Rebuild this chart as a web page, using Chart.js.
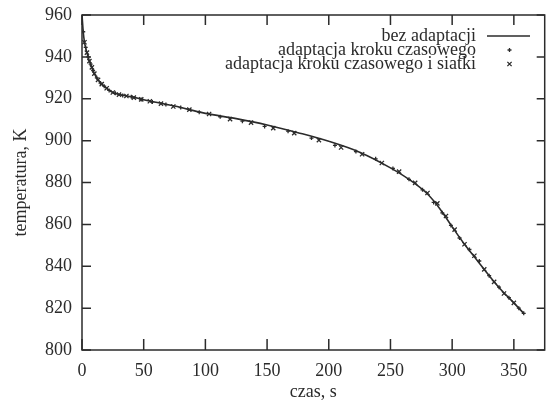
<!DOCTYPE html>
<html>
<head>
<meta charset="utf-8">
<script src="https://cdn.jsdelivr.net/npm/chart.js@4.4.1/dist/chart.umd.min.js"></script>
<style>
  html, body { margin: 0; padding: 0; background: #fff; }
  #wrap { width: 550px; height: 401px; }
</style>
</head>
<body>
<div id="wrap"><canvas id="tempChart"></canvas></div>
<script>
// czas [s] i temperatura [K]
const timeNoAdapt = [0, 1, 2, 4, 6, 8, 10, 13, 16, 20, 25, 30, 35, 40, 50, 60, 75, 100, 125, 150, 175, 200, 225, 250, 265, 280, 290, 300, 310, 320, 330, 340, 350, 358];
const tempNoAdapt = [960, 952, 947, 942, 938, 935, 932, 929, 927, 925, 923, 922, 921.5, 921, 919.5, 918.3, 916.5, 913, 910.5, 907.5, 903.8, 899.7, 894.5, 887, 881.5, 874.5, 867.5, 858.8, 850.5, 843, 835.5, 828.5, 822.5, 817.5];

const timeStep = [1, 3, 5, 7, 9, 12, 15, 18, 22, 27, 33, 40, 48, 57, 68, 80, 95, 112, 130, 148, 167, 186, 205, 222, 238, 252, 265, 276, 285, 292, 299, 306, 314, 322, 330, 338, 346, 354, 358];
const tempStep = [952, 944.5, 940, 936.5, 933.5, 930, 927.5, 926, 924, 922.6, 921.6, 921, 919.7, 918.5, 917.2, 915.8, 913.6, 911.4, 909.3, 906.8, 904.5, 901.2, 897.7, 894.8, 891.3, 886.7, 881.5, 876.5, 870.5, 865.5, 859.5, 853.5, 848, 842.5, 835.5, 830, 825, 820, 817.5];

const timeStepMesh = [2, 4, 6, 8, 10, 13, 16, 20, 25, 30, 36, 42, 48, 55, 64, 74, 87, 103, 120, 137, 155, 172, 192, 210, 227, 243, 257, 270, 280, 288, 295, 302, 310, 318, 326, 334, 342, 350];
const tempStepMesh = [947, 942, 938, 935, 932, 929, 927, 925, 923, 922, 921.3, 920.5, 919.7, 918.8, 917.7, 916.3, 914.8, 912.7, 910.3, 908.6, 906, 903.6, 900.2, 896.7, 893.5, 889.3, 885.2, 879.8, 875, 870, 864, 857.5, 850.5, 845, 838.5, 832.5, 827, 822.5];

const legendLabels = ['bez adaptacji', 'adaptacja kroku czasowego', 'adaptacja kroku czasowego i siatki'];

const ink = '#2b2b2b';
const fontFamily = '"Liberation Serif", "DejaVu Serif", serif';
const fontSize = 18;

function toPoints(xs, ys) {
    return xs.map((x, i) => ({ x: x, y: ys[i] }));
}

/// frame with inward ticks on all four sides (gnuplot style)
const framePlugin = {
    id: 'frame',
    afterDraw(chart) {
        const { ctx, chartArea: a, scales } = chart;
        ctx.save();
        ctx.strokeStyle = ink;
        ctx.lineWidth = 1.5;
        ctx.strokeRect(a.left, a.top, a.right - a.left, a.bottom - a.top);
        ctx.beginPath();
        scales.x.ticks.forEach(t => {
            const px = scales.x.getPixelForValue(t.value);
            ctx.moveTo(px, a.bottom); ctx.lineTo(px, a.bottom - 11);
            ctx.moveTo(px, a.top); ctx.lineTo(px, a.top + 10);
        });
        scales.y.ticks.forEach(t => {
            const py = scales.y.getPixelForValue(t.value);
            ctx.moveTo(a.left, py); ctx.lineTo(a.left + 9, py);
            ctx.moveTo(a.right, py); ctx.lineTo(a.right - 8, py);
        });
        ctx.stroke();
        ctx.restore();
    }
};

/// legend: text right aligned, sample on the right
const keyPlugin = {
    id: 'key',
    afterDraw(chart) {
        const { ctx } = chart;
        const textRight = 476, sampleL = 487, sampleR = 530, rows = [36, 50, 64];
        ctx.save();
        ctx.font = fontSize + 'px ' + fontFamily;
        ctx.textAlign = 'right';
        ctx.textBaseline = 'middle';
        chart.data.datasets.forEach((ds, i) => {
            ctx.fillStyle = ink;
            ctx.fillText(legendLabels[i], textRight, rows[i]);
            if (i === 0) {
                ctx.strokeStyle = ds.borderColor;
                ctx.lineWidth = ds.borderWidth;
                ctx.beginPath();
                ctx.moveTo(sampleL, rows[i]); ctx.lineTo(sampleR, rows[i]);
                ctx.stroke();
            } else {
                ctx.strokeStyle = ds.pointBorderColor;
                ctx.lineWidth = ds.pointBorderWidth;
                Chart.helpers.drawPoint(ctx, { pointStyle: ds.pointStyle, radius: ds.pointRadius, rotation: 0, borderWidth: ds.pointBorderWidth }, (sampleL + sampleR) / 2 + 1, rows[i]);
            }
        });
        ctx.restore();
    }
};

new Chart('tempChart', {
    type: 'line',
    data: {
        datasets: [
            {
                label: legendLabels[0],
                data: toPoints(timeNoAdapt, tempNoAdapt),
                borderColor: ink,
                borderWidth: 1.6,
                pointRadius: 0,
                cubicInterpolationMode: 'monotone',
                order: 2
            },
            {
                label: legendLabels[1],
                data: toPoints(timeStep, tempStep),
                showLine: false,
                pointStyle: 'cross',
                pointRadius: 2,
                pointBorderWidth: 1.3,
                pointBorderColor: ink,
                pointBackgroundColor: ink,
                order: 1
            },
            {
                label: legendLabels[2],
                data: toPoints(timeStepMesh, tempStepMesh),
                showLine: false,
                pointStyle: 'crossRot',
                pointRadius: 3,
                pointBorderWidth: 1.3,
                pointBorderColor: ink,
                pointBackgroundColor: ink,
                order: 0
            }
        ]
    },
    options: {
        responsive: true,
        maintainAspectRatio: false,
        animation: false,
        layout: { padding: { top: 15, right: 4, left: 0, bottom: 0 } },
        plugins: {
            legend: { display: false },
            tooltip: { enabled: false }
        },
        scales: {
            x: {
                type: 'linear',
                min: 0,
                max: 375,
                grid: { display: false, drawTicks: false },
                border: { display: false },
                ticks: {
                    stepSize: 50,
                    includeBounds: false,
                    maxRotation: 0,
                    padding: 10,
                    color: ink,
                    font: { family: fontFamily, size: fontSize }
                },
                title: {
                    display: true,
                    text: 'czas, s',
                    color: ink,
                    padding: { top: 0, bottom: 0 },
                    font: { family: fontFamily, size: fontSize, lineHeight: 1 }
                },
                afterFit(scale) {
                    scale.height = 51;
                    scale.paddingLeft = 0;
                    scale.paddingRight = 0;
                }
            },
            y: {
                min: 800,
                max: 960,
                grid: { display: false, drawTicks: false },
                border: { display: false },
                ticks: {
                    stepSize: 20,
                    padding: 10,
                    color: ink,
                    font: { family: fontFamily, size: fontSize }
                },
                title: {
                    display: true,
                    text: 'temperatura, K',
                    color: ink,
                    padding: { top: 12, bottom: 0 },
                    font: { family: fontFamily, size: fontSize, lineHeight: 1 }
                },
                afterFit(scale) {
                    scale.width = 82;
                    scale.paddingTop = 0;
                    scale.paddingBottom = 0;
                }
            }
        }
    },
    plugins: [framePlugin, keyPlugin]
});
</script>
</body>
</html>
